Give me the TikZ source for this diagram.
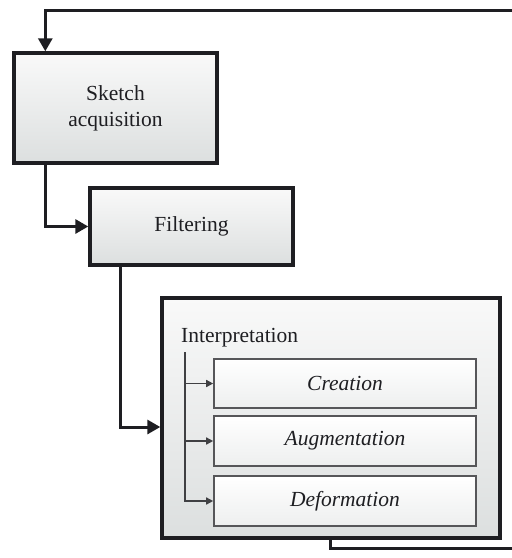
\documentclass[tikz,border=0pt]{standalone}
\usepackage{fontspec}
\setmainfont{Liberation Serif}
\usetikzlibrary{arrows.meta}
\definecolor{ink}{HTML}{1E1E22}
\definecolor{boxtop}{HTML}{F9F9F9}
\definecolor{boxbot}{HTML}{DCDFDF}
\tikzset{
  stagebox/.style={draw=ink, line width=3.4pt, top color=boxtop, bottom color=boxbot,
    font=\fontsize{21.5}{26}\selectfont, text=ink, align=center, inner sep=0pt},
  subbox/.style={draw=ink!75, line width=1.6pt, top color=white, bottom color=boxtop!60!boxbot,
    font=\fontsize{21.5}{26}\selectfont\itshape, text=ink, inner sep=0pt,
    minimum width=262pt},
  flow/.style={draw=ink, line width=3pt, -{Triangle[length=13pt,width=14pt]}},
  plain/.style={draw=ink, line width=3pt},
  branch/.style={draw=ink!85, line width=1.5pt, -{Triangle[length=7pt,width=7pt]}},
}
\begin{document}
\begin{tikzpicture}[x=1pt,y=-1pt]
\useasboundingbox (0,0) rectangle (512,558);

% processing stages
\node[stagebox, minimum width=203pt, minimum height=110pt] (sketch) at (115.5,108) {Sketch\\acquisition};
\node[stagebox, minimum width=203pt, minimum height=77pt] (filter) at (191.5,226.5) {Filtering};
\node[stagebox, minimum width=338pt, minimum height=240pt] (interp) at (331,418) {};

% interpretation sub-stages
\node[font=\fontsize{21.5}{26}\selectfont, text=ink, anchor=base west, inner sep=0pt] (interplabel) at (181,342) {Interpretation};
\node[subbox, minimum height=49pt] (creation) at (345,383.5) {Creation};
\node[subbox, minimum height=50pt] (augment) at (345,441) {Augmentation};
\node[subbox, minimum height=50pt] (deform) at (345,501) {Deformation};

\coordinate (trunk) at (185,352);
\draw[branch] (trunk) |- (creation.west);
\draw[branch] (trunk) |- (augment.west);
\draw[branch] (trunk) |- (deform.west);

% main flow
\coordinate (loopin) at (513,10);
\coordinate (loopout) at (513,548);
\draw[flow] (loopin) -| ([xshift=33pt]sketch.north west);
\draw[flow] ([xshift=33pt]sketch.south west) |- (filter.west);
\draw[flow] ([xshift=32pt]filter.south west) |- ([yshift=-9pt]interp.west);
\draw[plain] ([xshift=170pt]interp.south west) |- (loopout);
\end{tikzpicture}
\end{document}
